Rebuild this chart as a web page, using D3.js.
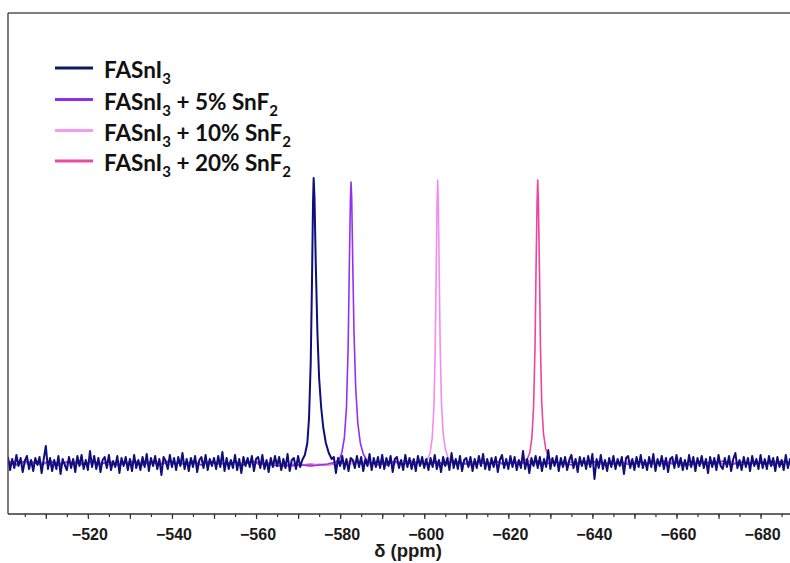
<!DOCTYPE html>
<html><head><meta charset="utf-8">
<script src="https://cdn.jsdelivr.net/npm/d3@7"></script>
<style>body{margin:0;background:#fff}svg{display:block}</style>
</head><body>
<svg id="c" width="790" height="563"></svg>
<script>
// ---------- data ----------
const seriesNames = ["FASnI3", "FASnI3 + 5% SnF2", "FASnI3 + 10% SnF2", "FASnI3 + 20% SnF2"];
const xTicks = [-520, -540, -560, -580, -600, -620, -640, -660, -680];

// peak profiles: [ppm, intensity]
const peakPure = [[-571.0,3],[-571.6,8],[-572.2,20],[-572.6,45],[-573.0,100],[-573.3,180],[-573.55,260],[-573.7,285],[-573.9,265],[-574.2,200],[-574.6,130],[-575.0,85],[-575.5,55],[-576.0,35],[-576.6,20],[-577.3,10],[-578.0,4]];
const peak5 = [[-579.8,4],[-580.4,10],[-581.0,25],[-581.5,55],[-581.9,115],[-582.2,200],[-582.45,265],[-582.6,281],[-582.75,265],[-583.0,200],[-583.3,130],[-583.7,75],[-584.2,40],[-584.8,20],[-585.5,9],[-586.3,3]];
const peak10 = [[-600.8,4],[-601.4,10],[-601.9,25],[-602.3,55],[-602.6,110],[-602.85,190],[-603.05,260],[-603.2,283],[-603.35,262],[-603.55,195],[-603.8,115],[-604.1,60],[-604.5,30],[-605.0,14],[-605.7,5]];
const peak20 = [[-624.5,4],[-625.1,10],[-625.6,25],[-626.0,55],[-626.35,115],[-626.6,195],[-626.85,262],[-627.0,283],[-627.15,262],[-627.4,195],[-627.65,115],[-627.95,60],[-628.35,30],[-628.9,14],[-629.6,6],[-630.3,2]];

// baseline noise, FASnI3: one value every 0.5 ppm from -501 ppm
const noisePure = [
6,-7,4,-5,8,-3,5,-9,2,7,-6,3,-8,5,-2,6,-10,4,17,-6,
5,-8,3,-6,7,-11,4,-2,-7,6,-5,4,-9,7,-3,8,-6,3,-7,12,
-4,7,-6,5,-9,3,6,-5,8,-7,2,-4,7,-10,5,-3,6,-7,4,-8,
8,-5,3,-7,6,-4,9,-8,5,-3,7,-6,4,-12,6,2,-6,8,-4,5,
-7,6,-3,10,-6,4,-8,5,-4,7,-9,3,6,-5,8,-7,4,-3,5,-6,
7,-4,11,-8,5,-6,3,-5,8,-7,4,-10,6,-3,5,-4,7,-8,4,6,
-5,8,-6,3,-9,5,-4,7,-3,6,-7,4,-5,9,-8,3,5,-6,7,-4,
4,-7,6,-5,8,-3,5,-9,4,7,-6,3,-4,8,-5,6,-10,5,-3,7,
-6,4,-8,5,3,-5,7,-4,6,-8,4,-3,9,-7,5,-4,6,-5,8,-6,
5,-3,7,-9,4,6,-5,3,-7,8,-4,5,-6,4,-8,7,-3,6,-5,4,
-7,5,-4,8,-6,3,-9,6,-3,5,-7,10,-5,4,-6,7,-8,3,5,-4,
6,-8,4,-5,7,-3,9,-6,4,-7,5,-4,6,-9,3,8,-5,4,-6,7,
-4,6,-7,3,-5,12,-6,4,-10,5,-3,7,-5,6,-8,4,-4,13,-6,5,
-3,7,-8,5,-4,6,-7,3,8,-5,4,-9,6,-3,5,-6,7,-4,9,-16,
4,-5,8,-6,3,-8,5,-4,7,-6,4,-3,6,-11,5,7,-5,4,-7,6,
-4,8,-5,3,-7,6,-4,9,-8,4,-3,7,-6,5,-9,4,6,-5,8,-4,
5,-7,3,-6,8,-4,6,-8,5,-3,7,-5,4,-10,6,-4,5,-7,8,-3,
-6,5,-4,7,-8,4,10,-5,3,-7,6,-4,5,-8,7,-3,4,-6,8,-5,
4,-6,7,-3,5,-8,6,-4,3,-7,8,-5,4,-6,7,-5,3,-8,6,-4
];
// baseline noise of the other three spectra: one value every 2 ppm from -501 ppm
const noise5 = [1,-2,2,0,-1,2,-2,1,0,-1,2,-1,1,-2,0,2,-1,1,-2,1,0,-1,2,-2,1,0,-1,1,-2,2,0,-1,-3,-3,-2,-2,-3,-2,-1,1,-2,2,-1,0,1,-2,2,-1,0,1,-2,1,-1,2,0,-2,1,-1,2,-1,0,1,-2,2,-1,1,0,-2,1,-1,2,0,-1,1,-2,1,0,-1,2,-1,1,-2,0,1,-1,2,-2,1,0,-1,1,-2,2,0];
const noise10 = [-1,2,-1,0,1,-2,1,-1,2,0,-1,1,-2,2,-1,0,1,-1,2,-2,0,1,-1,2,-1,0,-2,1,-1,2,0,-1,-2,-2,-1,-2,-3,-1,-2,0,1,-1,2,-2,0,1,-1,2,-1,0,1,-2,1,-1,0,2,-1,1,-2,0,1,-1,2,-2,1,0,-1,2,-1,1,-2,0,1,-1,2,-1,0,1,-2,1,-1,0,2,-1,1,-2,0,1,-1,2,-1,0,1,-2];
const noise20 = [2,-1,0,1,-2,2,-1,1,0,-2,1,-1,2,-1,0,1,-2,1,-1,2,0,-1,1,-2,2,-1,0,1,-1,2,-2,0,-1,-2,-3,-2,-1,-2,-2,-1,0,2,-1,1,-2,0,1,-1,2,-1,0,1,-2,2,-1,0,1,-1,2,-2,0,1,-1,2,-1,0,-2,1,-1,2,0,-1,1,-2,2,-1,0,1,-1,2,-2,1,0,-1,2,-1,1,-2,0,1,-1,2,-1,0];

// ---------- build ----------
function buildSeries(noise, start, step, peak) {
  const lo = d3.min(peak, d => d[0]), hi = d3.max(peak, d => d[0]);
  const pts = noise.map((v, i) => [start - step * i, v]).filter(p => p[0] > hi || p[0] < lo);
  return pts.concat(peak).sort((a, b) => b[0] - a[0]);
}
const series = [
  { name: seriesNames[0], data: buildSeries(noisePure, -501, 0.5, peakPure) },
  { name: seriesNames[1], data: buildSeries(noise5, -501, 2, peak5) },
  { name: seriesNames[2], data: buildSeries(noise10, -501, 2, peak10) },
  { name: seriesNames[3], data: buildSeries(noise20, -501, 2, peak20) }
];
const lineColors = ["#0e0e7c", "#9232ee", "#f38cf0", "#f0439c"];
const lineWidths = [2.0, 1.6, 1.6, 1.6];
const legendColors = ["#0c1c60", "#8e2fe8", "#f39cf0", "#ec4a9e"];

const svg = d3.select("#c");
const L = 8, R = 790, T = 13, B = 514;
const x = d3.scaleLinear().domain([-501, -687]).range([L, R]);
const y = d3.scaleLinear().domain([-51, 450]).range([B, T]);

svg.append("clipPath").attr("id", "clip").append("rect")
  .attr("x", L).attr("y", T).attr("width", R - L).attr("height", B - T);

const line = d3.line().x(d => x(d[0])).y(d => y(d[1]));
const g = svg.append("g").attr("clip-path", "url(#clip)");
[3, 2, 1, 0].forEach(i => {
  g.append("path").datum(series[i].data)
    .attr("d", line).attr("fill", "none")
    .attr("stroke", lineColors[i]).attr("stroke-width", lineWidths[i])
    .attr("stroke-linejoin", "round");
});

// frame
svg.append("line").attr("x1", L).attr("x2", R).attr("y1", T).attr("y2", T)
  .attr("stroke", "#555").attr("stroke-width", 1.3);
svg.append("line").attr("x1", L).attr("x2", L).attr("y1", T).attr("y2", B)
  .attr("stroke", "#444").attr("stroke-width", 1.4);

// x axis
const axMinor = d3.axisBottom(x).tickValues(d3.range(-505, -690, -5)).tickSize(3).tickFormat("");
const axMajor = d3.axisBottom(x).tickValues(d3.range(-510, -690, -10)).tickSize(5).tickFormat("");
const gx1 = svg.append("g").attr("transform", `translate(0,${B})`).call(axMinor);
const gx2 = svg.append("g").attr("transform", `translate(0,${B})`).call(axMajor);
[gx1, gx2].forEach(gg => {
  gg.select(".domain").remove();
  gg.selectAll("text").remove();
  gg.selectAll("line").attr("stroke", "#333").attr("stroke-width", 1.2);
});
svg.append("line").attr("x1", L).attr("x2", R).attr("y1", B).attr("y2", B)
  .attr("stroke", "#333").attr("stroke-width", 1.5);

const lab = svg.append("g");
lab.selectAll("text").data(xTicks).join("text")
  .attr("x", d => x(d) + 2).attr("y", 540)
  .attr("text-anchor", "middle")
  .attr("font-family", "Liberation Sans, Arial, sans-serif")
  .attr("font-weight", "bold").attr("font-size", 16).attr("fill", "#1a1a1a")
  .text(d => String(d).replace("-", "\u2212"));

svg.append("text").attr("x", 408).attr("y", 557).attr("text-anchor", "middle")
  .attr("font-family", "Liberation Sans, Arial, sans-serif")
  .attr("font-weight", "bold").attr("font-size", 18.5).attr("fill", "#1a1a1a")
  .text("δ (ppm)");

// legend
const leg = svg.append("g");
const rowsY = [68, 99.5, 130.5, 161];
series.forEach((s, i) => {
  leg.append("line").attr("x1", 55).attr("x2", 93).attr("y1", rowsY[i]).attr("y2", rowsY[i])
    .attr("stroke", legendColors[i]).attr("stroke-width", 3);
  const t = leg.append("text").attr("x", 104).attr("y", rowsY[i] + 10)
    .attr("font-family", "Lato, 'Open Sans', sans-serif").attr("font-weight", "bold")
    .attr("font-size", 22.5).attr("fill", "#111");
  const tokens = s.name.split(/(I3|F2)/).filter(p => p);
  let pendingDy = 0;
  tokens.forEach(tok => {
    if (tok === "I3" || tok === "F2") {
      t.append("tspan").attr("dy", pendingDy).text(tok[0]);
      t.append("tspan").attr("dy", 6).attr("font-size", 15).text(tok[1]);
      pendingDy = -6;
    } else {
      t.append("tspan").attr("dy", pendingDy).text(tok);
      pendingDy = 0;
    }
  });
});
</script>
</body></html>
